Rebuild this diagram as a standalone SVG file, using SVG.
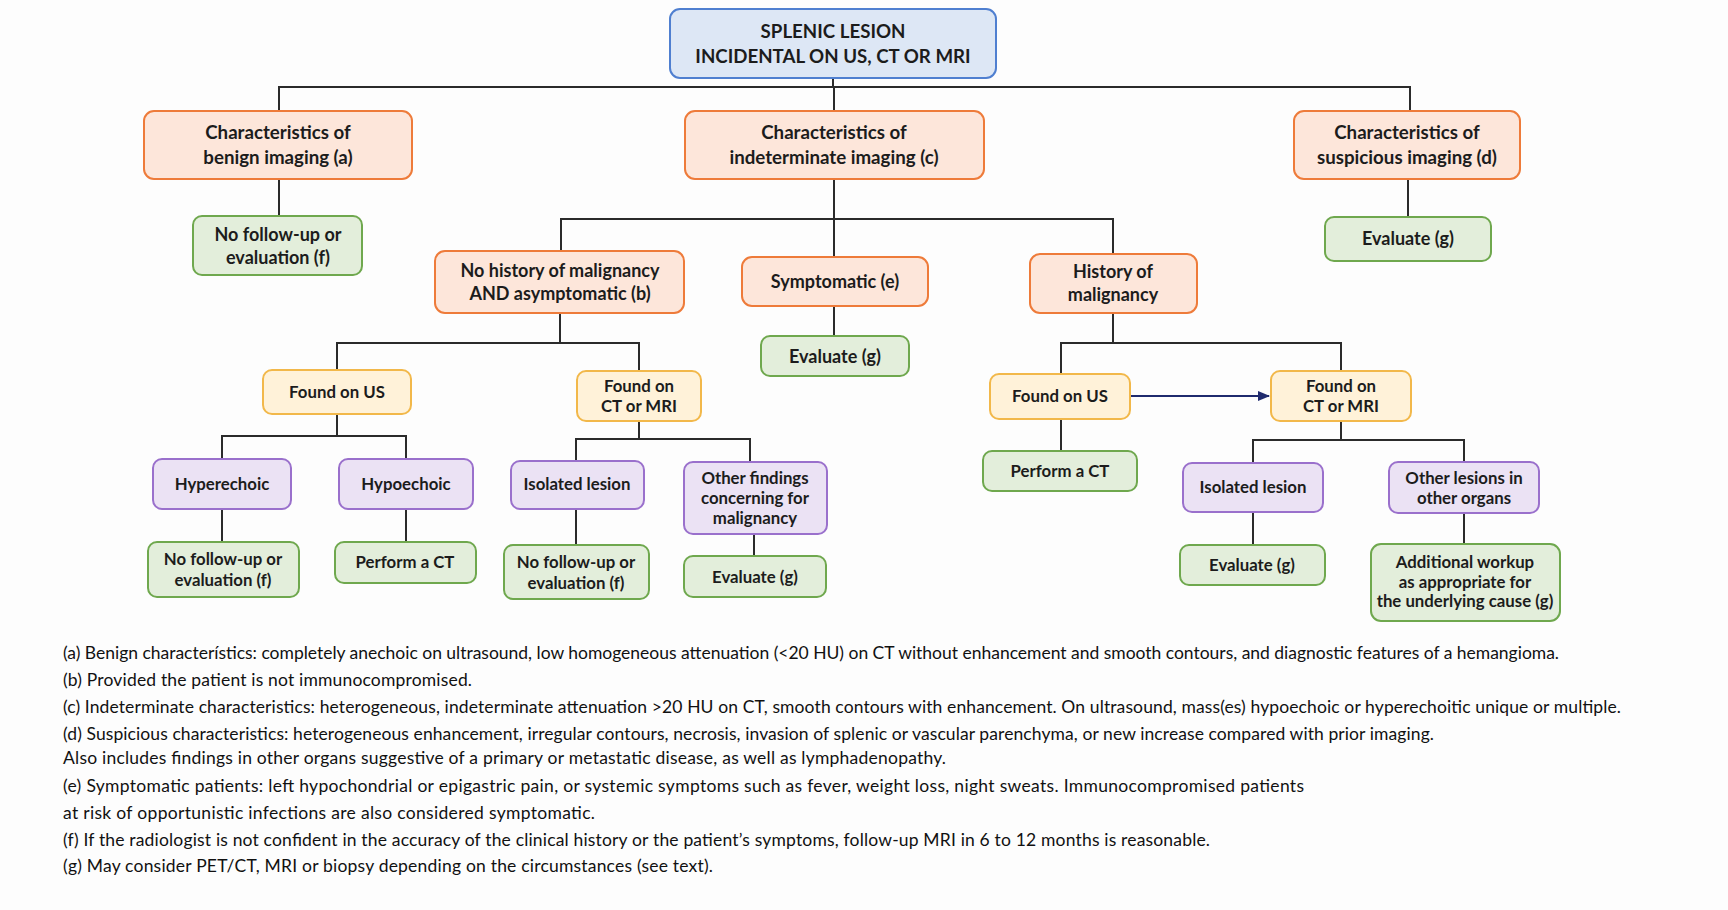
<svg xmlns="http://www.w3.org/2000/svg" width="1728" height="910" viewBox="0 0 1728 910">
<defs>
<style>
.n rect{stroke-width:2}
.o rect{fill:#fde6da;stroke:#ee7b3a}
.g rect{fill:#e3eedb;stroke:#6fa84e}
.p rect{fill:#ebe2f4;stroke:#9a70cc}
.y rect{fill:#fff2d9;stroke:#f2b84a}
.b rect{fill:#dde7f5;stroke:#4f7fd0}
text{font-family:Lato,"Liberation Sans",sans-serif;fill:#1c1c1c;text-anchor:middle;font-weight:700}
.t1{font-size:18.7px}
.t2{font-size:18px}
.t3{font-size:16.8px}
.fn text{text-anchor:start;font-weight:400;font-size:17.5px;fill:#111}
.c{stroke:#2b2b2b;stroke-width:2;fill:none}
</style>
<marker id="arr" markerWidth="12" markerHeight="10" refX="11" refY="5" orient="auto" markerUnits="userSpaceOnUse">
<path d="M0,0 L12,5 L0,10 Z" fill="#1f2a6e"/>
</marker>
</defs>
<rect x="0" y="0" width="1728" height="910" fill="#fdfdfd"/>

<g id="connectors">
<path class="c" d="M833,78 V87 M279,111 V87 H1410 V111 M834,87 V111"/>
<path class="c" d="M279,179 V216"/>
<path class="c" d="M834,179 V257 M561,251 V219 H1113 V254"/>
<path class="c" d="M1408,179 V217"/>
<path class="c" d="M834,306 V336"/>
<path class="c" d="M560,313 V343 M337,370 V343 H639 V371"/>
<path class="c" d="M337,414 V436 M222,459 V436 H406 V459"/>
<path class="c" d="M222,509 V542 M406,509 V542"/>
<path class="c" d="M639,421 V439 M576,461 V439 H750 V462"/>
<path class="c" d="M576,509 V545 M754,534 V556"/>
<path class="c" d="M1113,313 V343 M1061,374 V343 H1341 V371"/>
<path class="c" d="M1061,419 V451"/>
<path class="c" d="M1341,421 V440 M1253,463 V440 H1464 V462"/>
<path class="c" d="M1253,512 V545 M1464,513 V544"/>
<path d="M1130,396 H1269" stroke="#1f2a6e" stroke-width="2.2" fill="none" marker-end="url(#arr)"/>
</g>

<g id="root" class="n b"><rect x="670" y="9" width="326" height="69" rx="10"/>
<text class="t1" x="833" y="38">SPLENIC LESION</text><text class="t1" x="833" y="63">INCIDENTAL ON US, CT OR MRI</text></g>

<g id="benign" class="n o"><rect x="144" y="111" width="268" height="68" rx="10"/>
<text class="t1" x="278" y="139">Characteristics of</text><text class="t1" x="278" y="164">benign imaging (a)</text></g>
<g id="indeterminate" class="n o"><rect x="685" y="111" width="299" height="68" rx="10"/>
<text class="t1" x="834" y="139">Characteristics of</text><text class="t1" x="834" y="164">indeterminate imaging (c)</text></g>
<g id="suspicious" class="n o"><rect x="1294" y="111" width="226" height="68" rx="10"/>
<text class="t1" x="1407" y="139">Characteristics of</text><text class="t1" x="1407" y="164">suspicious imaging (d)</text></g>

<g id="benign-f" class="n g"><rect x="193" y="216" width="169" height="59" rx="9"/>
<text class="t2" x="278" y="241">No follow-up or</text><text class="t2" x="278" y="264">evaluation (f)</text></g>
<g id="suspicious-g" class="n g"><rect x="1325" y="217" width="166" height="44" rx="9"/>
<text class="t2" x="1408" y="245">Evaluate (g)</text></g>

<g id="nohistory" class="n o"><rect x="435" y="251" width="249" height="62" rx="10"/>
<text class="t2" x="560" y="277">No history of malignancy</text><text class="t2" x="560" y="300">AND asymptomatic (b)</text></g>
<g id="symptomatic" class="n o"><rect x="742" y="257" width="186" height="49" rx="10"/>
<text class="t2" x="835" y="288">Symptomatic (e)</text></g>
<g id="history" class="n o"><rect x="1030" y="254" width="167" height="59" rx="10"/>
<text class="t2" x="1113" y="278">History of</text><text class="t2" x="1113" y="301">malignancy</text></g>

<g id="symptomatic-g" class="n g"><rect x="761" y="336" width="148" height="40" rx="9"/>
<text class="t2" x="835" y="363">Evaluate (g)</text></g>

<g id="us-left" class="n y"><rect x="263" y="370" width="148" height="44" rx="9"/>
<text class="t3" x="337" y="398">Found on US</text></g>
<g id="ct-left" class="n y"><rect x="577" y="371" width="124" height="50" rx="9"/>
<text class="t3" x="639" y="392">Found on</text><text class="t3" x="639" y="412">CT or MRI</text></g>
<g id="us-right" class="n y"><rect x="990" y="374" width="140" height="45" rx="9"/>
<text class="t3" x="1060" y="402">Found on US</text></g>
<g id="ct-right" class="n y"><rect x="1271" y="371" width="140" height="50" rx="9"/>
<text class="t3" x="1341" y="392">Found on</text><text class="t3" x="1341" y="412">CT or MRI</text></g>

<g id="hyperechoic" class="n p"><rect x="153" y="459" width="138" height="50" rx="9"/>
<text class="t3" x="222" y="490">Hyperechoic</text></g>
<g id="hypoechoic" class="n p"><rect x="339" y="459" width="134" height="50" rx="9"/>
<text class="t3" x="406" y="490">Hypoechoic</text></g>
<g id="isolated-left" class="n p"><rect x="511" y="461" width="133" height="48" rx="9"/>
<text class="t3" x="577" y="490">Isolated lesion</text></g>
<g id="otherfindings" class="n p"><rect x="684" y="462" width="143" height="72" rx="9"/>
<text class="t3" x="755" y="484">Other findings</text><text class="t3" x="755" y="504">concerning for</text><text class="t3" x="755" y="524">malignancy</text></g>
<g id="performct-right" class="n g"><rect x="983" y="451" width="154" height="40" rx="9"/>
<text class="t3" x="1060" y="477">Perform a CT</text></g>
<g id="isolated-right" class="n p"><rect x="1183" y="463" width="140" height="49" rx="9"/>
<text class="t3" x="1253" y="493">Isolated lesion</text></g>
<g id="otherlesions" class="n p"><rect x="1389" y="462" width="150" height="51" rx="9"/>
<text class="t3" x="1464" y="484">Other lesions in</text><text class="t3" x="1464" y="504">other organs</text></g>

<g id="hyper-f" class="n g"><rect x="148" y="542" width="151" height="55" rx="9"/>
<text class="t3" x="223" y="565">No follow-up or</text><text class="t3" x="223" y="586">evaluation (f)</text></g>
<g id="hypo-ct" class="n g"><rect x="335" y="542" width="141" height="41" rx="9"/>
<text class="t3" x="405" y="568">Perform a CT</text></g>
<g id="isolated-left-f" class="n g"><rect x="504" y="545" width="145" height="54" rx="9"/>
<text class="t3" x="576" y="568">No follow-up or</text><text class="t3" x="576" y="589">evaluation (f)</text></g>
<g id="otherfindings-g" class="n g"><rect x="684" y="556" width="142" height="41" rx="9"/>
<text class="t3" x="755" y="583">Evaluate (g)</text></g>
<g id="isolated-right-g" class="n g"><rect x="1180" y="545" width="145" height="40" rx="9"/>
<text class="t3" x="1252" y="571">Evaluate (g)</text></g>
<g id="additional" class="n g"><rect x="1371" y="544" width="189" height="77" rx="10"/>
<text class="t3" x="1465" y="568">Additional workup</text><text class="t3" x="1465" y="588">as appropriate for</text><text class="t3" x="1465" y="607">the underlying cause (g)</text></g>

<g id="footnotes" class="fn">
<text x="63" y="659" textLength="1496" lengthAdjust="spacing">(a) Benign characterístics: completely anechoic on ultrasound, low homogeneous attenuation (&lt;20 HU) on CT without enhancement and smooth contours, and diagnostic features of a hemangioma.</text>
<text x="63" y="686" textLength="409" lengthAdjust="spacing">(b) Provided the patient is not immunocompromised.</text>
<text x="63" y="713" textLength="1558" lengthAdjust="spacing">(c) Indeterminate characteristics: heterogeneous, indeterminate attenuation &gt;20 HU on CT, smooth contours with enhancement. On ultrasound, mass(es) hypoechoic or hyperechoitic unique or multiple.</text>
<text x="63" y="740" textLength="1371" lengthAdjust="spacing">(d) Suspicious characteristics: heterogeneous enhancement, irregular contours, necrosis, invasion of splenic or vascular parenchyma, or new increase compared with prior imaging.</text>
<text x="63" y="764" textLength="883" lengthAdjust="spacing">Also includes findings in other organs suggestive of a primary or metastatic disease, as well as lymphadenopathy.</text>
<text x="63" y="792" textLength="1241" lengthAdjust="spacing">(e) Symptomatic patients: left hypochondrial or epigastric pain, or systemic symptoms such as fever, weight loss, night sweats. Immunocompromised patients</text>
<text x="63" y="819" textLength="532" lengthAdjust="spacing">at risk of opportunistic infections are also considered symptomatic.</text>
<text x="63" y="846" textLength="1147" lengthAdjust="spacing">(f) If the radiologist is not confident in the accuracy of the clinical history or the patient’s symptoms, follow-up MRI in 6 to 12 months is reasonable.</text>
<text x="63" y="872" textLength="650" lengthAdjust="spacing">(g) May consider PET/CT, MRI or biopsy depending on the circumstances (see text).</text>
</g>
</svg>
